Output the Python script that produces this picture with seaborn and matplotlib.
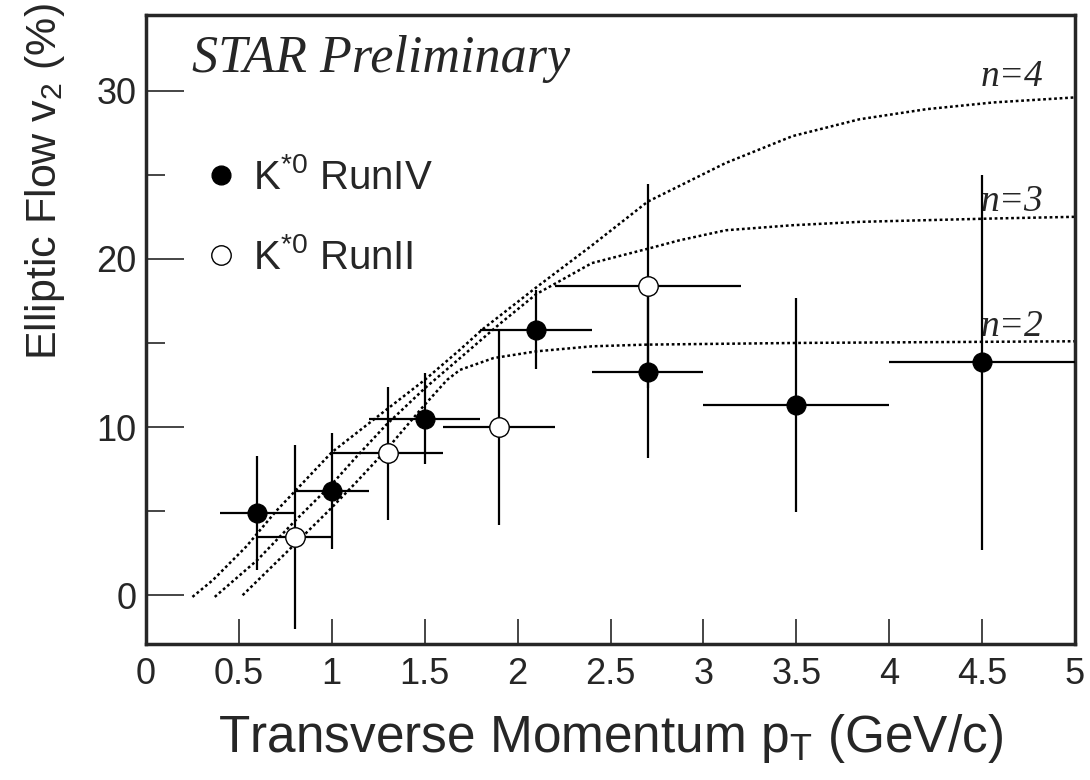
import matplotlib
matplotlib.use("Agg")
import matplotlib.pyplot as plt
from matplotlib.lines import Line2D
import pandas as pd
import seaborn as sns

# K*0 RunIV (filled points)
pt_run4 = [0.6, 1.0, 1.5, 2.1, 2.7, 3.5, 4.5]
v2_run4 = [4.9, 6.2, 10.5, 15.8, 13.3, 11.3, 13.85]
pt_err_run4 = [0.2, 0.2, 0.3, 0.3, 0.3, 0.5, 0.5]
v2_err_run4 = [3.4, 3.45, 2.7, 2.35, 5.15, 6.37, 11.15]

# K*0 RunII (open points)
pt_run2 = [0.8, 1.3, 1.9, 2.7]
v2_run2 = [3.47, 8.43, 9.98, 18.39]
pt_err_run2 = [0.2, 0.3, 0.3, 0.5]
v2_err_run2 = [5.45, 3.97, 5.78, 6.07]

# quark number scaling curves
n4_pt = [0.25, 0.36, 0.54, 0.70, 1.00, 1.29, 1.50, 1.69, 1.81, 2.10, 2.40, 2.70, 3.12, 3.48, 3.84, 4.20, 4.56, 5.00]
n4_v2 = [-0.1, 0.9, 2.9, 5.0, 8.5, 11.0, 12.8, 14.6, 15.8, 18.3, 20.8, 23.4, 25.7, 27.3, 28.3, 28.9, 29.3, 29.6]
n3_pt = [0.37, 0.60, 0.80, 1.00, 1.13, 1.29, 1.50, 1.69, 1.90, 2.10, 2.40, 2.70, 2.87, 3.12, 3.48, 3.84, 4.56, 5.00]
n3_v2 = [-0.1, 2.1, 4.4, 6.6, 8.2, 10.1, 12.3, 14.1, 16.1, 17.9, 19.75, 20.6, 21.1, 21.7, 22.0, 22.2, 22.4, 22.5]
n2_pt = [0.52, 0.77, 0.99, 1.13, 1.29, 1.49, 1.62, 1.69, 1.87, 2.10, 2.40, 2.69, 3.50, 5.00]
n2_v2 = [0.0, 2.7, 5.1, 6.7, 8.6, 11.2, 12.8, 13.4, 14.1, 14.5, 14.8, 14.9, 15.0, 15.1]

curve_labels = ["n=4", "n=3", "n=2"]
curve_label_pos = [(4.66, 30.8), (4.66, 23.4), (4.66, 15.95)]

sns.set_style("ticks")
plt.rcParams["font.family"] = ["Liberation Sans", "DejaVu Sans"]
plt.rcParams["mathtext.fontset"] = "custom"
plt.rcParams["mathtext.rm"] = "Liberation Sans"
plt.rcParams["mathtext.it"] = "Liberation Sans:italic"

fig = plt.figure(figsize=(10.9, 7.8), dpi=100)
ax = fig.add_axes([146 / 1090, 136 / 780, 929 / 1090, 629 / 780])

# theory curves
curves = pd.concat([
    pd.DataFrame({"pt": n4_pt, "v2": n4_v2, "n": "4"}),
    pd.DataFrame({"pt": n3_pt, "v2": n3_v2, "n": "3"}),
    pd.DataFrame({"pt": n2_pt, "v2": n2_v2, "n": "2"}),
])
for n, d in curves.groupby("n"):
    sns.lineplot(data=d, x="pt", y="v2", ax=ax, color="black", lw=1.8,
                 linestyle=(0, (1.1, 1.1)), sort=False, estimator=None)

for lab, (x, y) in zip(curve_labels, curve_label_pos):
    ax.text(x, y, lab, family="Liberation Serif", style="italic",
            fontsize=27, ha="center", va="center")

# data points
ax.errorbar(pt_run4, v2_run4, xerr=pt_err_run4, yerr=v2_err_run4, fmt="o",
            color="black", ms=13.5, elinewidth=1.6, capsize=0, zorder=3)
ax.errorbar(pt_run2, v2_run2, xerr=pt_err_run2, yerr=v2_err_run2, fmt="o",
            color="black", mfc="white", mec="black", mew=1.0, ms=14,
            elinewidth=1.6, capsize=0, zorder=4)

ax.set_xlim(0, 5)
ax.set_ylim(-2.9, 34.5)
ax.set_xticks([0, 0.5, 1, 1.5, 2, 2.5, 3, 3.5, 4, 4.5, 5])
ax.set_xticklabels(["0", "0.5", "1", "1.5", "2", "2.5", "3", "3.5", "4", "4.5", "5"])
ax.set_yticks([0, 10, 20, 30])
ax.set_yticks([5, 15, 25], minor=True)
ax.tick_params(axis="both", which="major", direction="in", labelsize=26,
               width=1.2, length=18, pad=9)
ax.tick_params(axis="y", which="major", length=27, pad=7)
ax.tick_params(axis="y", which="minor", direction="in", width=1.2, length=14)
for s in ax.spines.values():
    s.set_linewidth(2.5)

ax.set_xlabel(r"Transverse Momentum p$_\mathrm{T}$ (GeV/c)", fontsize=37)
ax.set_ylabel(r"Elliptic Flow v$_\mathrm{2}$ (%)", fontsize=31)
ax.xaxis.set_label_coords(0.5, -0.108)
ax.yaxis.set_label_coords(-0.085, 0.735)

ax.text(0.25, 31.1, "STAR Preliminary", family="Liberation Serif",
        style="italic", fontsize=37.5, va="baseline")

handles = [
    Line2D([], [], ls="", marker="o", color="black", ms=13.5),
    Line2D([], [], ls="", marker="o", mfc="white", mec="black", mew=1.0, ms=14),
]
ax.legend(handles, [r"K$^{*0}$ RunIV", r"K$^{*0}$ RunII"], loc="upper left",
          bbox_to_anchor=(0.059, 0.772), frameon=False, fontsize=29,
          handlelength=1.0, handletextpad=0.3, labelspacing=1.0,
          borderpad=0, borderaxespad=0)

fig.savefig("out.png", dpi=100)
